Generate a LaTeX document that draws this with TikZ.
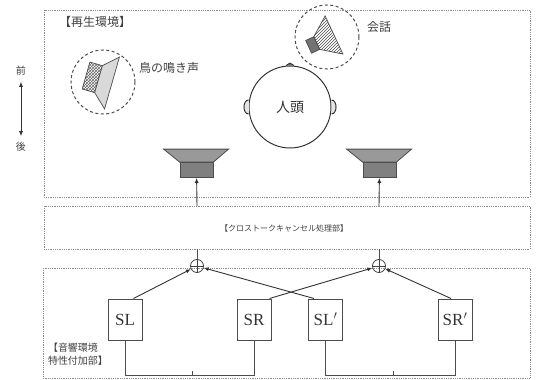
\documentclass[tikz,border=0pt]{standalone}
\usepackage{fontspec}
\setmainfont{Liberation Serif}
\newfontfamily\jp{Noto Sans CJK JP}
\usetikzlibrary{arrows.meta,patterns}

\begin{document}
\begin{tikzpicture}[x=1pt,y=-1pt,
  zone/.style={draw=black!45, densely dotted, line width=0.8pt},
  lbl/.style={font=\jp\fontsize{11}{13}\selectfont, text=black!75, inner sep=1pt},
  blk/.style={draw=black!70, line width=1pt, minimum width=34pt, minimum height=41pt,
    inner sep=0pt, font=\fontsize{17}{17}\selectfont, text=black!80},
  sum/.style={draw=black!75, circle, line width=0.8pt, minimum size=13pt, inner sep=0pt,
    path picture={\draw[black!75, line width=0.8pt]
      (path picture bounding box.north) -- (path picture bounding box.south)
      (path picture bounding box.west) -- (path picture bounding box.east);}},
  spk/.style={draw=black!70, fill=black!50, line width=0.8pt, minimum width=33pt,
    minimum height=15pt, inner sep=0pt},
  cone/.style={draw=black!70, fill=black!40, line width=0.8pt},
  arr/.style={-{Latex[length=5pt,width=4pt]}, line width=0.9pt, black!80},
  wire/.style={line width=0.9pt, black!70},
  ring/.style={draw=black!70, line width=1pt, dash pattern=on 3pt off 2.5pt}
]
  \useasboundingbox (0,0) rectangle (536,380);

  % zones
  \draw[zone] (44,10) rectangle (530,197);
  \draw[zone] (44,206) rectangle (530,249);
  \draw[zone] (43,268) rectangle (530,378);

  \node[lbl, font=\jp\fontsize{12}{14}\selectfont] (play) at (95,22) {【再生環境】};
  \node[lbl, font=\jp\fontsize{8}{10}\selectfont] (xtalk) at (284,228) {【クロストークキャンセル処理部】};
  \node[lbl, align=left, font=\jp\fontsize{10}{12.5}\selectfont] (addp) at (78,354)
    {【音響環境\\特性付加部】};

  % front / back
  \node[lbl, font=\jp\fontsize{10}{12}\selectfont] (front) at (21,71) {前};
  \node[lbl, font=\jp\fontsize{10}{12}\selectfont] (back) at (21,147) {後};
  \draw[{Latex[length=5pt,width=4pt]}-{Latex[length=5pt,width=4pt]}, line width=0.8pt, black!80,
    shorten <=5pt, shorten >=5pt] (front) -- (back);

  % bird source
  \node[ring, circle, minimum size=64pt] (bird) at (103,82) {};
  \begin{scope}[shift={(112,83)}, rotate=-16]
    \draw[draw=black!70, line width=0.7pt, pattern=crosshatch, pattern color=black!60]
      (-27,-14) rectangle (-14,14);
    \draw[draw=black!70, line width=0.7pt, fill=black!15]
      (-14,-14) -- (0,-27) -- (0,27) -- (-14,14) -- cycle;
  \end{scope}
  \node[lbl, font=\jp\fontsize{12}{14}\selectfont, anchor=west] (birdtxt) at (138,68) {鳥の鳴き声};

  % talk source
  \node[ring, circle, minimum size=64pt] (talk) at (327,37) {};
  \begin{scope}[shift={(334,35)}, rotate=25]
    \draw[draw=black!70, line width=0.7pt, fill=black!55] (-28,-7) rectangle (-19,7);
    \draw[draw=black!70, line width=0.7pt, pattern=north east lines, pattern color=black!70]
      (-19,-7) -- (0,-21) -- (0,21) -- (-19,7) -- cycle;
  \end{scope}
  \node[lbl, font=\jp\fontsize{12}{14}\selectfont, anchor=west] (talktxt) at (366,27) {会話};

  % listener
  \node[draw=black!80, circle, line width=1pt, minimum size=82pt,
    font=\jp\fontsize{14}{16}\selectfont, text=black!80] (head) at (290,107) {人頭};
  \draw[line width=1pt, black!80, fill=black!10]
    ([yshift=7pt]head.west) .. controls +(-6,0) and +(-6,0) .. ([yshift=-7pt]head.west);
  \draw[line width=1pt, black!80, fill=black!10]
    ([yshift=7pt]head.east) .. controls +(6,0) and +(6,0) .. ([yshift=-7pt]head.east);
  \draw[line width=0.8pt, black!80, fill=black!60]
    ([xshift=-4pt]head.north) -- ([yshift=2.5pt]head.north) -- ([xshift=4pt]head.north);

  % loudspeakers
  \node[spk] (spkL) at (196.5,170) {};
  \draw[cone] (spkL.north west) -- ++(-16,-13) -- ++(65,0) -- (spkL.north east) -- cycle;
  \node[spk] (spkR) at (379.5,170) {};
  \draw[cone] (spkR.north west) -- ++(-16,-13) -- ++(65,0) -- (spkR.north east) -- cycle;

  % filter blocks
  \node[blk] (sl)  at (125,319.5) {SL};
  \node[blk] (sr)  at (254,319.5) {SR};
  \node[blk] (slp) at (325.5,319.5) {SL$'$};
  \node[blk] (srp) at (455,319.5) {SR$'$};

  \node[sum] (sumL) at (197,266) {};
  \node[sum] (sumR) at (379,266) {};

  \coordinate (inL)  at (197,249);
  \coordinate (outL) at (197,206);
  \coordinate (inR)  at (379,249);
  \coordinate (outR) at (379,206);

  \draw[wire] (sumL) -- (inL);
  \draw[wire] (sumR) -- (inR);
  \draw[arr] (outL) -- (spkL);
  \draw[arr] (outR) -- (spkR);

  \draw[arr] ([xshift=-9pt]sl.north east) -- (sumL);
  \draw[arr] ([xshift=6pt]slp.north west) -- (sumL);
  \draw[arr] ([xshift=-2pt]sr.north east) -- (sumR);
  \draw[arr] ([xshift=-4pt]srp.north) -- (sumR);

  % input feeds
  \draw[wire] (sl.south) -- ++(0,35) -| (sr.south);
  \draw[wire] (slp.south) -- ++(0,35) -| (srp.south);
  \coordinate (tapL) at (192,375);
  \coordinate (tapR) at (393,375);
  \draw[wire] (tapL) -- ++(0,-4);
  \draw[wire] (tapR) -- ++(0,-4);
\end{tikzpicture}
\end{document}
